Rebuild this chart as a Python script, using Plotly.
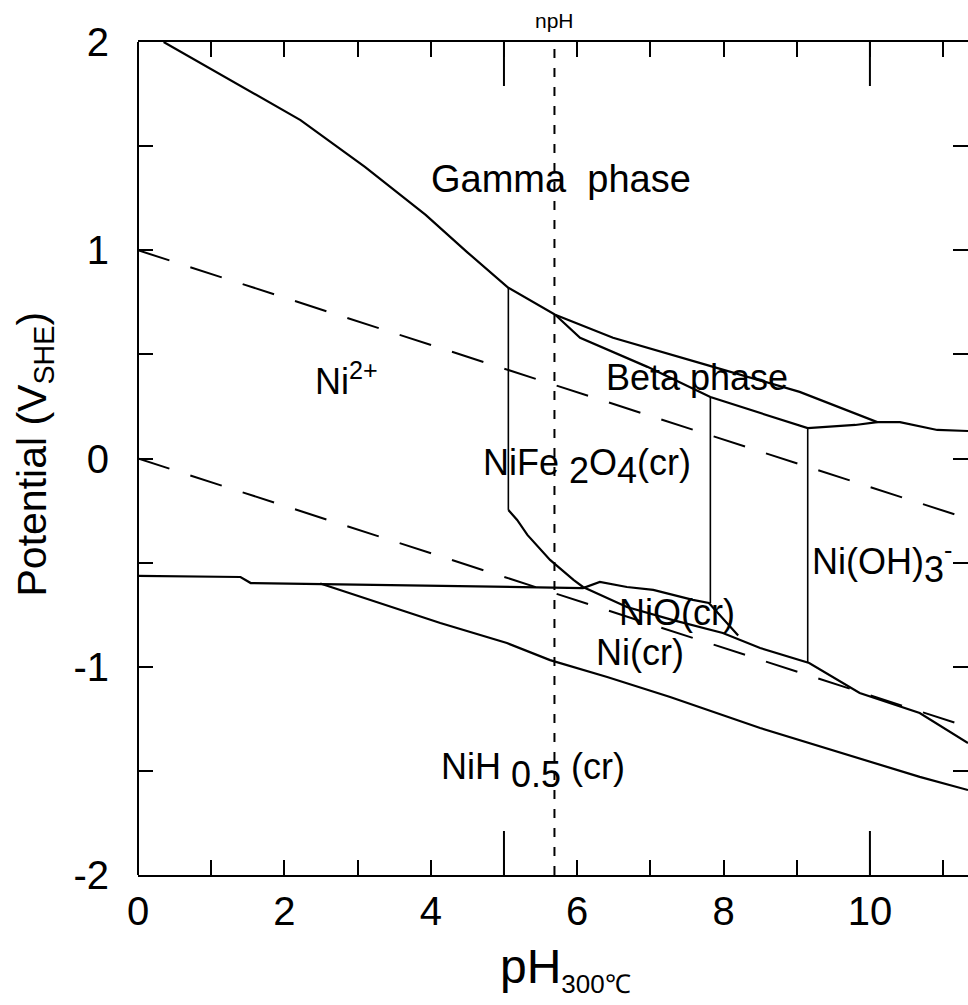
import plotly.graph_objects as go

# ---- boundary data (pH at 300 °C, potential in V vs SHE) ----
gamma_ph = [0.35, 1.30, 2.22, 3.10, 3.93, 4.50, 5.06, 5.70, 6.49, 7.86, 9.04, 10.10, 10.41, 10.92, 11.34]
gamma_e = [2.00, 1.81, 1.625, 1.40, 1.17, 0.99, 0.82, 0.69, 0.58, 0.44, 0.32, 0.175, 0.175, 0.137, 0.132]

beta_low_ph = [5.70, 6.04, 6.96, 7.82, 9.15, 9.80, 10.10]
beta_low_e = [0.69, 0.58, 0.44, 0.295, 0.146, 0.161, 0.175]

v1_ph = [5.06, 5.06]
v1_e = [0.82, -0.247]
v2_ph = [7.82, 7.82]
v2_e = [0.295, -0.694]
v3_ph = [9.15, 9.15]
v3_e = [0.146, -0.982]

nife_low_ph = [5.06, 5.18, 5.32, 5.63, 5.95, 6.08, 6.68, 7.31, 7.99, 8.50, 9.17, 9.86, 10.68, 11.34]
nife_low_e = [-0.247, -0.295, -0.367, -0.487, -0.583, -0.617, -0.713, -0.776, -0.838, -0.910, -0.982, -1.126, -1.222, -1.366]

nio_top_ph = [0.0, 1.40, 1.54, 6.08, 6.31, 6.68, 7.04, 7.31, 7.58, 7.80, 8.2]
nio_top_e = [-0.564, -0.569, -0.598, -0.622, -0.593, -0.617, -0.631, -0.655, -0.679, -0.694, -0.85]

nih_ph = [2.49, 4.13, 5.04, 5.63, 6.41, 7.27, 8.50, 9.63, 10.68, 11.34]
nih_e = [-0.60, -0.790, -0.886, -0.968, -1.049, -1.145, -1.294, -1.414, -1.529, -1.592]

# water stability lines (slope 2.303RT/F at 573 K)
water_ph = [0.0, 11.34]
o2_e = [1.0, -0.289]
h2_e = [0.0, -1.289]

nph = 5.69

y_ticks = [-2, -1, 0, 1, 2]
y_ticktext = ["-2", "-1", "0", "1", "2"]
x_ticks = [0, 2, 4, 6, 8, 10]

LBL = 36


def low(s):
    # full-size, lowered subscript as used in the region labels
    return f"<sub><span style='font-size:{LBL}px'>{s}</span></sub>"


labels = [
    ("Gamma  phase", 5.78, 1.34, 38),
    ("Ni<sup>2+</sup>", 2.85, 0.38, LBL),
    ("Beta phase", 7.64, 0.39, LBL),
    ("NiFe " + low("2") + "O" + low("4") + "(cr)", 6.13, -0.04, LBL),
    ("Ni(OH)" + low("3") + "<sup>-</sup>", 10.17, -0.50, LBL),
    ("NiO(cr)", 7.37, -0.74, LBL),
    ("Ni(cr)", 6.86, -0.93, LBL),
    ("NiH " + low("0.5") + " (cr)", 5.4, -1.50, LBL),
]

fig = go.Figure()


def solid(x, y, w=2.2):
    fig.add_trace(go.Scatter(x=x, y=y, mode="lines",
                             line=dict(color="black", width=w),
                             hoverinfo="skip", showlegend=False))


for xs, ys in [(gamma_ph, gamma_e), (beta_low_ph, beta_low_e),
               (nife_low_ph, nife_low_e), (nio_top_ph, nio_top_e),
               (nih_ph, nih_e)]:
    solid(xs, ys)
for xs, ys in [(v1_ph, v1_e), (v2_ph, v2_e), (v3_ph, v3_e)]:
    solid(xs, ys, 1.6)

for ys in (o2_e, h2_e):
    fig.add_trace(go.Scatter(x=water_ph, y=ys, mode="lines",
                             line=dict(color="black", width=2, dash="33px,22px"),
                             hoverinfo="skip", showlegend=False))

fig.add_trace(go.Scatter(x=[nph, nph], y=[-2, 2], mode="lines",
                         line=dict(color="black", width=2, dash="9px,10px"),
                         hoverinfo="skip", showlegend=False))

font_family = "Liberation Sans, Arial, Helvetica, sans-serif"

for text, x, y, size in labels:
    fig.add_annotation(x=x, y=y, text=text, showarrow=False,
                       font=dict(family=font_family, size=size, color="black"))

fig.add_annotation(x=nph, y=1, yref="paper", yanchor="bottom", yshift=8,
                   text="npH", showarrow=False,
                   font=dict(family=font_family, size=21, color="black"))

# axis titles
fig.add_annotation(x=0, xref="paper", xanchor="center", xshift=-104,
                   y=0.5, yref="paper", yanchor="middle", yshift=4,
                   text="Potential (V<sub>SHE</sub>)", textangle=-90, showarrow=False,
                   font=dict(family=font_family, size=41, color="black"))
fig.add_annotation(x=0.5, xref="paper", xanchor="center", xshift=12,
                   y=0, yref="paper", yanchor="bottom", yshift=-126,
                   text="pH<sub><span style='font-size:26px'>300℃</span></sub>",
                   showarrow=False,
                   font=dict(family=font_family, size=48, color="black"))

# frame: left edge plus the longer ticks at pH 5 and 10
shapes = [dict(type="line", xref="paper", yref="paper", x0=0, x1=0, y0=0, y1=1,
               line=dict(color="black", width=2))]
for v in (5, 10):
    shapes.append(dict(type="line", xref="x", yref="paper", x0=v, x1=v,
                       ysizemode="pixel", yanchor=0, y0=0, y1=44,
                       line=dict(color="black", width=2)))
    shapes.append(dict(type="line", xref="x", yref="paper", x0=v, x1=v,
                       ysizemode="pixel", yanchor=1, y0=0, y1=-44,
                       line=dict(color="black", width=2)))

fig.update_layout(
    width=968, height=1005,
    margin=dict(l=138, r=0, t=42, b=130),
    paper_bgcolor="white", plot_bgcolor="white",
    font=dict(family=font_family, color="black"),
    shapes=shapes,
    xaxis=dict(range=[0, 11.34], showgrid=False, zeroline=False,
               showline=True, linecolor="black", linewidth=2, mirror="ticks",
               ticks="inside", ticklen=15, tickwidth=2, tickcolor="black",
               tickvals=x_ticks, tickfont=dict(size=40),
               minor=dict(dtick=1, tick0=0, ticks="inside", ticklen=15,
                          tickwidth=2, tickcolor="black", showgrid=False)),
    yaxis=dict(range=[-2, 2], showgrid=False, zeroline=False,
               showline=False, mirror="ticks",
               ticks="inside", ticklen=15, tickwidth=2, tickcolor="black",
               tickvals=y_ticks, ticktext=y_ticktext, tickfont=dict(size=40),
               ticklabelstandoff=28,
               minor=dict(dtick=0.5, tick0=0, ticks="inside", ticklen=15,
                          tickwidth=2, tickcolor="black", showgrid=False)),
)

fig.write_html("out.html")
